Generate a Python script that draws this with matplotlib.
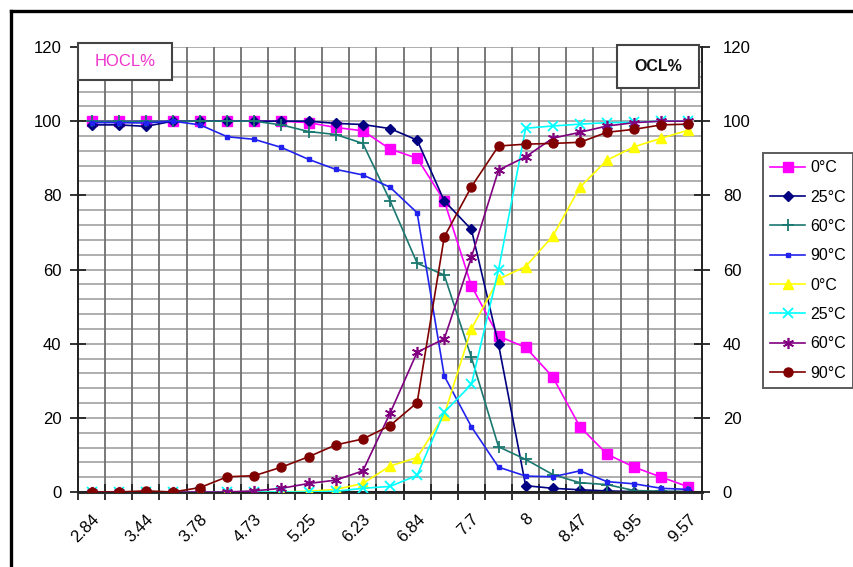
import matplotlib
matplotlib.use("Agg")
import matplotlib.pyplot as plt
from matplotlib.lines import Line2D
from matplotlib.patches import Rectangle
import numpy as np

plt.rcParams['font.family'] = ['Liberation Sans', 'DejaVu Sans']

# ---- data ----
tick_labels = ["2.84", "3.44", "3.78", "4.73", "5.25", "6.23", "6.84", "7.7", "8", "8.47", "8.95", "9.57"]
n_points = 23

hocl_0 = [100, 100, 100, 100, 100, 100, 100, 100, 99.6, 98.3, 97.4, 92.5, 90, 78.5, 55.6, 42, 39, 31, 17.6, 10.2, 6.7, 4, 1.4]
hocl_25 = [99, 99, 98.6, 100, 100, 100, 100, 100, 100, 99.4, 99.1, 98, 94.9, 78.5, 70.8, 39.8, 1.7, 1.0, 0.6, 0.3, 0.1, 0.1, 0.1]
hocl_60 = [100, 100, 100, 100, 100, 100, 100, 99, 97.2, 96.4, 94, 78.6, 61.7, 58.5, 36.3, 12.2, 8.8, 4.7, 2.5, 2.0, 0.4, 0.2, 0.1]
hocl_90 = [99.6, 99.6, 99.5, 100, 99, 95.8, 95.1, 92.9, 89.7, 87, 85.5, 82.2, 75.3, 31.3, 17.6, 6.7, 4.3, 4.1, 5.7, 2.8, 2.2, 1.0, 0.7]

ocl_0 = [0, 0, 0, 0, 0, 0, 0, 0, 0.2, 0.7, 2.3, 7.0, 9.3, 20.8, 44, 57.4, 60.8, 69, 82.2, 89.5, 93.1, 95.4, 97.6]
ocl_25 = [0, 0, 0, 0, 0, 0, 0, 0, 0, 0.2, 1.0, 1.5, 4.5, 21.5, 29, 59.9, 98.1, 98.7, 99.2, 99.6, 99.7, 100, 100]
ocl_60 = [0, 0, 0, 0, 0, 0, 0.3, 1.0, 2.3, 3.2, 5.7, 21.2, 37.7, 41.3, 63.3, 86.8, 90.4, 95.4, 97.0, 98.7, 99.6, 100, 100]
ocl_90 = [0, 0, 0.3, 0, 1.2, 4.1, 4.4, 6.7, 9.5, 12.7, 14.3, 17.9, 24.1, 68.8, 82.3, 93.3, 93.8, 94.0, 94.3, 97.0, 97.8, 99.0, 99.2]

series_labels = ["0°C", "25°C", "60°C", "90°C"]

W, H = 854, 567
fig = plt.figure(figsize=(W / 100, H / 100), dpi=100)
fig.patch.set_facecolor('white')

L, R, T, B = 78, 702, 47, 492
ax = fig.add_axes([L / W, 1 - B / H, (R - L) / W, (B - T) / H])
ax2 = ax.twinx()

x = np.arange(n_points)

styles_h = [
    dict(color='#FF00FF', marker='s', ms=6.5, mec='#FF00FF', mfc='#FF00FF'),
    dict(color='#000080', marker='D', ms=5, mec='#000080', mfc='#000080'),
    dict(color='#1A7870', marker='+', ms=8, mew=1.3, mec='#1A7870'),
    dict(color='#2222EE', marker='s', ms=3, mec='#2222EE', mfc='#2222EE'),
]
styles_o = [
    dict(color='#FFFF00', marker='^', ms=7, mec='#FFFF00', mfc='#FFFF00'),
    dict(color='#00FFFF', marker='x', ms=7, mew=1.3, mec='#00FFFF'),
    dict(color='#800080', marker=(6, 2, 0), ms=8, mew=1.2, mec='#800080'),
    dict(color='#800000', marker='o', ms=6.5, mec='#800000', mfc='#800000'),
]

handles = []
for data, st, lab in zip([hocl_0, hocl_25, hocl_60, hocl_90], styles_h, series_labels):
    h, = ax.plot(x, data, lw=1.2, label=lab, zorder=3, **st)
    handles.append(h)
for data, st, lab in zip([ocl_0, ocl_25, ocl_60, ocl_90], styles_o, series_labels):
    h, = ax2.plot(x, data, lw=1.2, label=lab, zorder=3, **st)
    handles.append(h)

for a in (ax, ax2):
    a.set_xlim(-0.5, n_points - 0.5)
    a.set_ylim(0, 120)
    a.set_yticks(np.arange(0, 121, 20))

# grid
for yv in np.arange(4, 121, 4):
    ax.axhline(yv, color='#A8A8A8', lw=1.3, zorder=1)
for xb in np.arange(0.5, n_points - 0.5, 1):
    ax.axvline(xb, color='#707070', lw=1.3, zorder=1)

ax.set_xticks(np.arange(-0.5, n_points, 1))
ax.set_xticklabels([])
ax.set_xticks(np.arange(0, n_points, 2), minor=True)
ax.set_xticklabels(tick_labels, minor=True, rotation=45, ha='right',
                   rotation_mode='anchor', fontsize=12)
ax.tick_params(axis='x', which='major', direction='inout', length=11, width=1.3, color='#222222')
ax.tick_params(axis='x', which='minor', length=0, pad=14)
ax.tick_params(axis='y', direction='inout', length=12, width=1.3, color='#222222', labelsize=12, pad=6)
ax2.tick_params(axis='y', direction='inout', length=12, width=1.3, color='#222222', labelsize=12, pad=9)

for a in (ax, ax2):
    a.spines['top'].set_visible(False)
    for s in ('left', 'right', 'bottom'):
        a.spines[s].set_color('#222222')
        a.spines[s].set_linewidth(1.3)
ax.spines['bottom'].set_linewidth(2.2)
ax.spines['bottom'].set_color('#333333')

# text boxes
def fig_box(x0, y0, x1, y1, text, color, weight='normal', size=11.5):
    fig.patches.append(Rectangle((x0 / W, 1 - y1 / H), (x1 - x0) / W, (y1 - y0) / H,
                                 transform=fig.transFigure, facecolor='white',
                                 edgecolor='#444444', lw=1.5, zorder=5))
    fig.text((x0 + x1) / 2 / W, 1 - (y0 + y1) / 2 / H, text, color=color,
             ha='center', va='center', fontsize=size, fontweight=weight, zorder=6)

fig_box(78, 43, 172, 80, "HOCL%", '#EE33CC', size=12)
fig_box(617, 45, 699, 88, "OCL%", '#111111', weight='bold', size=11.5)

# legend
leg = fig.legend(handles=handles, loc='upper left',
                 bbox_to_anchor=(763 / W, 1 - 153 / H), frameon=True,
                 fontsize=11.5, handlelength=2.2, handletextpad=0.3,
                 labelspacing=0.9, borderpad=0.45, borderaxespad=0, fancybox=False)
leg.get_frame().set_edgecolor('#333333')
leg.get_frame().set_linewidth(1.4)

# outer border
fig.lines.append(Line2D([11 / W, 11 / W], [0, 1 - 11 / H], transform=fig.transFigure,
                        color='black', lw=2.4))
fig.lines.append(Line2D([11 / W, 1], [1 - 11 / H, 1 - 11 / H], transform=fig.transFigure,
                        color='black', lw=2.4))

fig.savefig("out.png", dpi=100)
